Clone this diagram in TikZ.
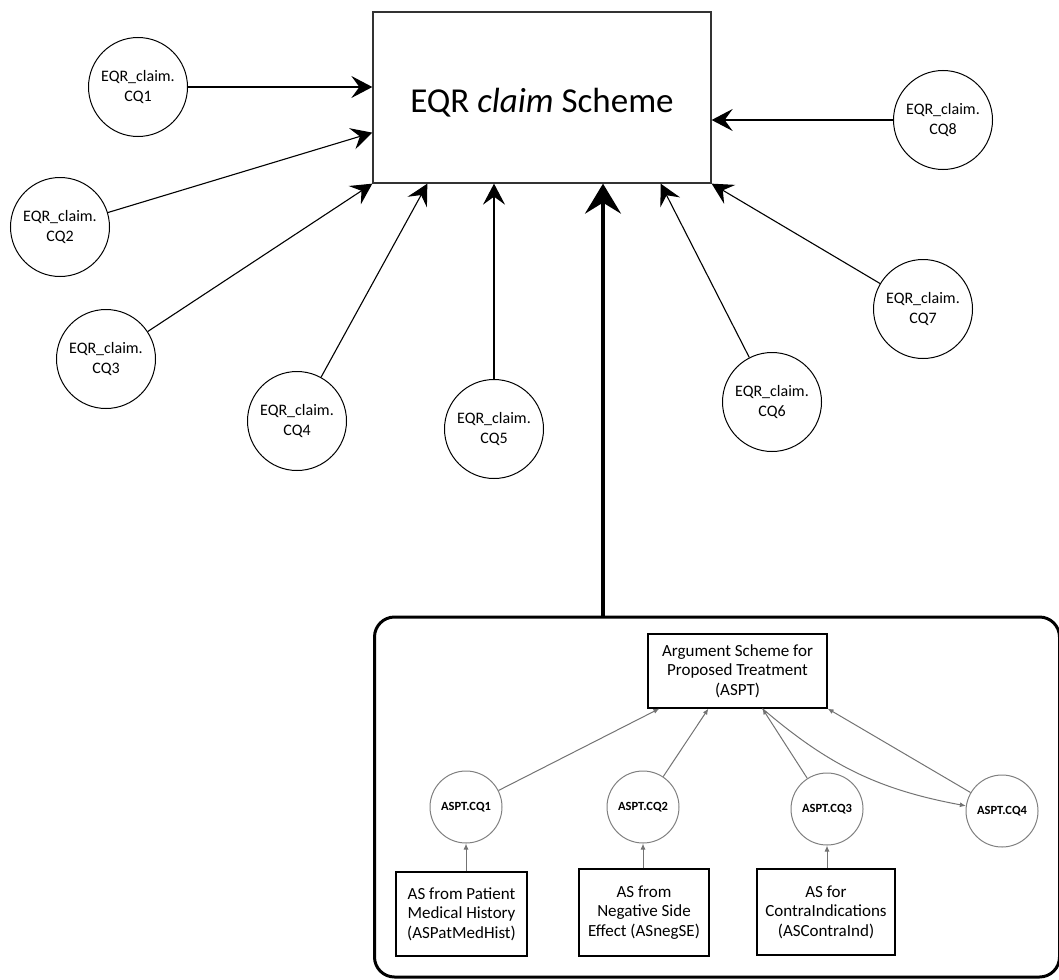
\documentclass[tikz,border=0pt]{standalone}
\usepackage{fontspec}
\setmainfont{Carlito}
\usetikzlibrary{arrows.meta,calc}
\begin{document}
\begin{tikzpicture}[x=1pt,y=-1pt,
  scheme/.style={draw=black!80, line width=1.3pt, minimum width=338pt, minimum height=171pt,
    inner sep=0pt, font=\fontsize{35}{42}\selectfont},
  cq/.style={draw, circle, line width=1pt, minimum size=99pt, inner sep=0pt, align=center,
    font=\fontsize{16}{20}\selectfont},
  attack/.style={line width=1.1pt, -{Stealth[length=21pt,width=22pt,inset=8pt]}},
  support/.style={line width=3.5pt, -{Stealth[length=30pt,width=36pt,inset=11pt]}},
  group/.style={draw, line width=3pt, rounded corners=20pt, minimum width=685pt, minimum height=360pt},
  sbox/.style={draw, line width=1.2pt, inner sep=0pt, align=center,
    font=\fontsize{17}{19.5}\selectfont},
  scq/.style={draw=black!50, circle, line width=1pt, minimum size=72pt, inner sep=0pt,
    font=\bfseries\fontsize{12.5}{15}\selectfont},
  sub/.style={draw=black!55, line width=1pt, -{Latex[length=6pt,width=5pt]}}
]
\useasboundingbox (0,0) rectangle (1059,979);

% main scheme and its critical questions
\node[scheme] (main) at (542,97.5) {\raisebox{-15.5pt}[0pt][0pt]{\makebox[0pt]{EQR \textit{claim} Scheme}}};
\node[cq] (c1) at (138,87)  {EQR\_claim.\\CQ1};
\node[cq] (c2) at (60,227)  {EQR\_claim.\\CQ2};
\node[cq] (c3) at (106,359) {EQR\_claim.\\CQ3};
\node[cq] (c4) at (297,421) {EQR\_claim.\\CQ4};
\node[cq] (c5) at (494,429) {EQR\_claim.\\CQ5};
\node[cq] (c6) at (772,402) {EQR\_claim.\\CQ6};
\node[cq] (c7) at (923,309) {EQR\_claim.\\CQ7};
\node[cq] (c8) at (943,120) {EQR\_claim.\\CQ8};

\draw[attack] (c1) -- (c1 -| main.west);
\draw[attack] (c2) -- ([yshift=51pt]main.south west);
\draw[attack] (c3) -- (main.south west);
\draw[attack] (c4) -- ([xshift=55pt]main.south west);
\draw[attack] (c5) -- (c5 |- main.south);
\draw[attack] (c6) -- ([xshift=-51pt]main.south east);
\draw[attack] (c7) -- (main.south east);
\draw[attack] (c8) -- (c8 -| main.east);

% embedded ASPT scheme
\node[group] (grp) at (717,797) {};
\coordinate (drop) at ([xshift=-114pt]grp.north);
\draw[support] (drop) -- (drop |- main.south);

\node[sbox, minimum width=179pt, minimum height=74pt] (aspt) at (737.5,671)
  {Argument Scheme for\\Proposed Treatment\\(ASPT)};
\node[scq] (a1) at (466,807)  {ASPT.CQ1};
\node[scq] (a2) at (643,807)  {ASPT.CQ2};
\node[scq] (a3) at (827,809)  {ASPT.CQ3};
\node[scq] (a4) at (1002,811) {ASPT.CQ4};

\node[sbox, minimum width=131pt, minimum height=84pt] (b1) at (461.5,914)
  {AS from Patient\\Medical History\\(ASPatMedHist)};
\node[sbox, minimum width=130pt, minimum height=87pt] (b2) at (644,912.5)
  {AS from\\Negative Side\\Effect (ASnegSE)};
\node[sbox, minimum width=138pt, minimum height=86pt] (b3) at (826,912)
  {AS for\\ContraIndications\\(ASContraInd)};

\coordinate (pin) at ([xshift=115pt]aspt.south west);
\draw[sub] (a1) -- ([xshift=12pt]aspt.south west);
\draw[sub] (a2) -- ([xshift=61pt]aspt.south west);
\draw[sub] (a3) -- (pin);
\draw[sub] (pin) to[bend right=15] (a4);
\draw[sub] (a4) -- (aspt.south east);

\draw[sub] (b1.north -| a1) -- (a1);
\draw[sub] (b2.north -| a2) -- (a2);
\draw[sub] (b3.north -| a3) -- (a3);
\end{tikzpicture}
\end{document}
